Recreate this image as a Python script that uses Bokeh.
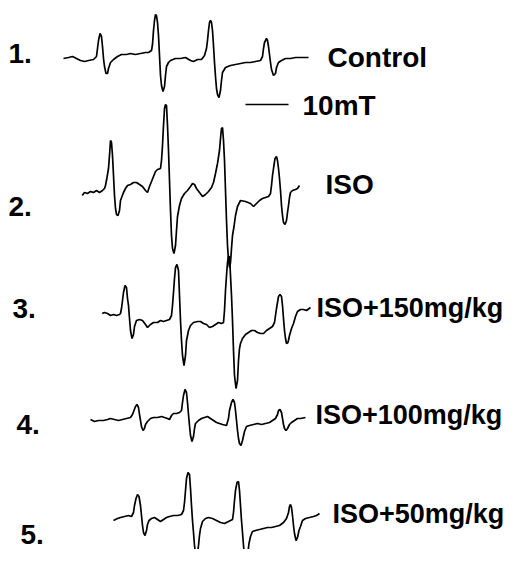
from bokeh.plotting import figure
from bokeh.models import Range1d
from bokeh.core.properties import value
from bokeh.embed import file_html
from bokeh.resources import INLINE

# ---- ESR spectra (field in arbitrary units, signal in arbitrary units) ----
field_1 = [63,68,72,76,80,84,88,93,96,97,98,99.5,101,102,103,104,105.5,107,108,110,113,117,121,126,130,135,140,145,148,151,152,153,154,155,156,157,158,159,160,161,162.5,164,165,166,168,170,175,180,185,190,193,197,201,204,206,207,208,209,210,211,212,213,214,215,216,217,218.5,220,221,222,225,230,235,240,245,250,255,260,262,263,264,266,267,268,269,270,271,273,275,276,278,281,285,290,295,300,308]
signal_1 = [0,1,2,0,-2,-3,-2,-1,2,10,18,25,22,12,0,-8,-15,-15,-10,-4,-1,2,4,4,5,4,5,6,6,8,14,28,38,44,43,36,23,3,-17,-27,-33,-28,-17,-8,-4,-2,0,0,1,-2,-3,-1,-1,3,10,18,28,36,38,36,28,13,-4,-18,-30,-36,-39,-32,-22,-14,-9,-7,-6,-5,-4,-4,-3,-2,2,10,16,20,18,12,4,-4,-11,-17,-15,-9,-4,-2,0,0,1,1,1]

field_2 = [81.7,84,87,90,93,96,99,102,104,105,106.5,108,109,110,111,112,113,114,115,116,117.5,119,120,121.5,123,125,127,130,133,136,139,142,145,147,149,151,153,155,157,160,161,162,163,164,165,166,167,168,169,170,171,172,173.5,175,176,177,179,181,184,187,190,192,194,196,199,202,205,208,211,213,215,217,219,220,221,222,223,224,225,226,227,228,229,230,231,232,233.5,235,237,240,245,250,253,256,259,262,265,268,270,271,272,273,274.5,276,277,278,279,280,281,282,283,284.5,286,287,288,289,290,292,295,297,299]
signal_2 = [-2,1,0,2,1,3,1,3,5,8,16,25,38,53,51,38,18,-2,-15,-21,-22,-17,-7,-3,1,5,8,9,11,11,9,7,3,1,7,12,17,22,24,25,33,48,68,85,89,88,68,43,13,-17,-42,-55,-60,-52,-37,-23,-12,-5,0,3,7,10,9,5,1,-3,-1,2,6,11,20,30,43,55,65,66,53,33,3,-27,-52,-67,-74,-69,-55,-42,-33,-22,-13,-7,-8,-10,-13,-10,-7,-5,-4,-3,0,8,18,25,35,37,33,25,15,3,-12,-22,-29,-31,-27,-19,-12,-4,1,3,4,5,8]

field_3 = [101.7,104,107,110,113,116,119,120,121,122,123,124.5,126,127,128,129,130,131.5,133,134,136,139,142,145,147,150,153,157,160,163,166,169,171,172,173,174,175,176.5,178,179,180,181,182,183.5,185,186,188,190,193,197,200,203,206,209,212,215,218,221,223,224,225,226,227,228,229,230,231,232,233,234,235.5,237,238,239,240,242,245,248,251,254,257,260,263,266,269,272,274,275,276,277,278,279.5,281,282,283,284,285,286,287.5,289,291,293,295,297,300,303,306,310]
signal_3 = [1,2,1,-1,0,-1,0,1,6,14,22,29,27,16,9,-4,-16,-24,-20,-12,-6,-5,-6,-10,-13,-10,-8,-8,-6,-7,-6,-5,-1,9,22,36,47,50,44,19,-6,-26,-41,-51,-41,-26,-16,-11,-8,-7,-7,-9,-10,-13,-12,-10,-8,-9,-8,4,24,39,52,58,58,39,19,-6,-36,-61,-74,-66,-46,-34,-29,-24,-20,-18,-16,-16,-18,-19,-19,-16,-14,-12,-8,-1,6,12,18,20,18,9,-4,-16,-24,-29,-28,-21,-14,-9,-2,3,5,5,4,7]

field_4 = [90,94,98,103,107,110,114,118,122,126,130,132,133.5,135,136.5,138,139,140,141,142.5,144,145,147,150,153,157,161,164,167,169,171,173,176,179,181,182,183,184.5,186,187,188,189,190,191.5,193,194,195,198,201,204,207,210,213,216,219,222,226,228,229,231,232.5,234,235,236,237,238,239,240.5,242,244,246,249,253,257,261,265,269,272,275,277,278,279.5,281,282,283,284,285.5,287,289,291,294,297,300,305]
signal_4 = [0,-2,-1,-1,0,1,0,-1,0,1,2,5,9,13,15,12,5,-1,-7,-11,-9,-5,-2,1,2,2,3,2,1,0,4,6,6,7,9,17,24,30,27,17,5,-6,-16,-22,-17,-9,-4,-1,1,2,3,1,-1,-3,-4,-5,-6,1,9,17,20,17,9,-1,-11,-19,-24,-26,-21,-12,-7,-6,-5,-4,-5,-4,-3,-1,1,5,9,10,7,1,-5,-9,-11,-9,-5,-3,-1,1,1,2]

field_5 = [113,117,120,124,128,131,133,134,135.5,137,138.5,140,141,142,143,144.5,146,147,148.5,151,154,157,160,163,166,169,173,177,181,183,184,185,186,187.5,189,190,191,192,193,194,195,196.5,198,199,200,202,205,208,212,216,220,224,228,232,233,234,235,236.5,238,239,240,241,242,243,244,245.5,247,248.5,250,252,255,259,263,267,271,275,279,283,286,288,289,290,291,292,293,294,295.5,297,298.5,300,302,305,309,313,316,319]
signal_5 = [-2,0,1,2,3,2,6,13,20,24,22,13,3,-7,-14,-17,-12,-6,-2,0,1,-1,-3,-1,1,2,3,3,4,8,16,28,40,46,44,30,13,-2,-14,-27,-35,-38,-27,-17,-10,-3,0,1,0,-2,-4,-5,-3,-1,6,18,28,36,37,28,13,-2,-14,-27,-37,-44,-37,-25,-18,-13,-12,-11,-10,-9,-9,-8,-7,-4,0,6,12,14,11,3,-7,-15,-22,-19,-12,-8,-2,0,1,2,3,5]

fields = [field_1, field_2, field_3, field_4, field_5]
signals = [signal_1, signal_2, signal_3, signal_4, signal_5]
stack_offsets = [507, 372, 251, 146, 47]

numbers = ["1.", "2.", "3.", "4.", "5."]
number_x = [8, 8, 12, 16, 20]
number_y = [512, 359, 257, 141, 31]

names = ["Control", "ISO"]
name_x = [327, 325]
name_y = [508, 381]

long_names = ["ISO+150mg/kg", "ISO+100mg/kg", "ISO+50mg/kg"]
long_name_x = [316, 315, 332]
long_name_y = [258, 151, 52]

scale_bar_x = [245, 288]
scale_bar_y = [461, 461]
scale_label = "10mT"
scale_label_x = 302
scale_label_y = 460

for f, s in zip(fields, signals):
    assert len(f) == len(s), (len(f), len(s))

p = figure(width=503, height=549, x_range=Range1d(0, 503), y_range=Range1d(16, 565),
           toolbar_location=None, output_backend="svg", min_border=0,
           x_axis_location=None, y_axis_location=None)
p.grid.visible = False
p.outline_line_color = None
p.background_fill_color = "white"

for f, s, off in zip(fields, signals, stack_offsets):
    p.line(f, [v + off for v in s], line_color="black", line_width=1.7)

p.line(scale_bar_x, scale_bar_y, line_color="black", line_width=1.3)

font = value("Liberation Sans")
common = dict(text_font=font, text_font_style="bold", text_baseline="middle",
              text_align="left", text_color="black")
p.text(number_x, number_y, text=numbers, text_font_size="28px", **common)
p.text(name_x, name_y, text=names, text_font_size="28px", **common)
p.text(long_name_x, long_name_y, text=long_names, text_font_size="27px", **common)
p.text([scale_label_x], [scale_label_y], text=[scale_label], text_font_size="28px", **common)

open("out.html", "w").write(file_html(p, INLINE))
